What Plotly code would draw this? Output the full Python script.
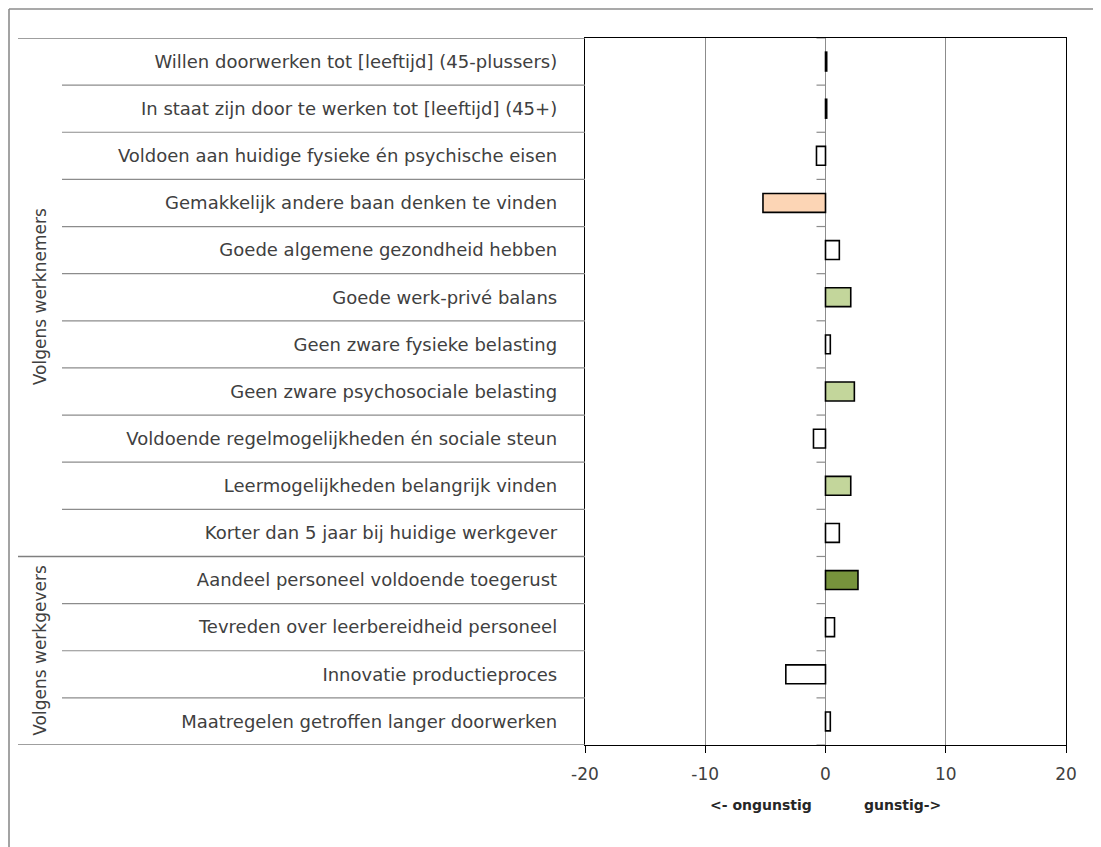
import plotly.graph_objects as go

categories = [
    "Willen doorwerken tot [leeftijd] (45-plussers)",
    "In staat zijn door te werken tot [leeftijd] (45+)",
    "Voldoen aan huidige fysieke én psychische eisen",
    "Gemakkelijk andere baan denken te vinden",
    "Goede algemene gezondheid hebben",
    "Goede werk-privé balans",
    "Geen zware fysieke belasting",
    "Geen zware psychosociale belasting",
    "Voldoende regelmogelijkheden én sociale steun",
    "Leermogelijkheden belangrijk vinden",
    "Korter dan 5 jaar bij huidige werkgever",
    "Aandeel personeel voldoende toegerust",
    "Tevreden over leerbereidheid personeel",
    "Innovatie productieproces",
    "Maatregelen getroffen langer doorwerken",
]
values = [0.1, 0.1, -0.75, -5.2, 1.15, 2.1, 0.4, 2.4, -1.0, 2.1, 1.15, 2.7, 0.75, -3.3, 0.4]
bar_colors = ["#FFFFFF", "#FFFFFF", "#FFFFFF", "#FCD5B5", "#FFFFFF", "#C3D69B", "#FFFFFF",
              "#C3D69B", "#FFFFFF", "#C3D69B", "#FFFFFF", "#77933C", "#FFFFFF", "#FFFFFF", "#FFFFFF"]
groups = [("Volgens werknemers", 0, 10), ("Volgens werkgevers", 11, 14)]
x_ticks = [-20, -10, 0, 10, 20]
x_tick_text = ["-20", "-10", "0", "10", "20"]

FONT = "DejaVu Sans"
TXT = "#404040"

# target pixel geometry in the screenshot (decorations only); page has an 8px body offset
OFF = 8
PL, PR, PT, PB = 585, 1066, 38, 745
W, H = 1101, 847
pw, ph = PR - PL, PB - PT


def px_x(p):
    return (p - PL) / pw


def px_y(p):
    return (PB - p) / ph


fig = go.Figure()
fig.add_trace(go.Bar(
    y=categories, x=values, orientation="h",
    marker=dict(color=bar_colors, line=dict(color="#000000", width=1.6)),
    width=0.4, hoverinfo="x+y", showlegend=False,
))

n = len(categories)
shapes = []
# row separators in the label area
for k in range(1, n):
    if k == 11:
        continue
    shapes.append(dict(type="line", xref="paper", yref="y", x0=px_x(62), x1=0,
                       y0=k - 0.5, y1=k - 0.5, line=dict(color="#8C8C8C", width=1.2)))
# group separators
for yb in (-0.5, 10.5, n - 0.5):
    shapes.append(dict(type="line", xref="paper", yref="y", x0=px_x(18), x1=0,
                       y0=yb, y1=yb, line=dict(color="#7F7F7F", width=1.4)))
# small ticks on the zero axis at category boundaries
for k in range(n + 1):
    shapes.append(dict(type="line", xref="x", yref="y", xsizemode="pixel", xanchor=0,
                       x0=-9, x1=0, y0=k - 0.5, y1=k - 0.5,
                       line=dict(color="#8C8C8C", width=1.2)))
# outer frame
shapes.append(dict(type="line", xref="paper", yref="paper", x0=px_x(9), x1=px_x(W + 20),
                   y0=px_y(9), y1=px_y(9), line=dict(color="#8C8C8C", width=1.6)))
shapes.append(dict(type="line", xref="paper", yref="paper", x0=px_x(9), x1=px_x(9),
                   y0=px_y(9), y1=px_y(H + 20), line=dict(color="#8C8C8C", width=1.6)))

annotations = []
for name, a, b in groups:
    annotations.append(dict(text=name, xref="paper", yref="y", x=px_x(40), y=(a + b) / 2,
                            textangle=-90, showarrow=False, xanchor="center", yanchor="middle",
                            font=dict(family=FONT, size=17, color=TXT)))
annotations.append(dict(text="<b>&lt;- ongunstig</b>", xref="x", yref="paper", x=-5.4,
                        y=px_y(805), xanchor="center", yanchor="middle",
                        showarrow=False, font=dict(family=FONT, size=14, color="#262626")))
annotations.append(dict(text="<b>gunstig-&gt;</b>", xref="x", yref="paper", x=6.4,
                        y=px_y(805), xanchor="center", yanchor="middle",
                        showarrow=False, font=dict(family=FONT, size=14, color="#262626")))

fig.update_layout(
    width=W, height=H,
    margin=dict(l=PL - OFF, r=W + OFF - PR, t=PT - OFF, b=H + OFF - PB),
    paper_bgcolor="white", plot_bgcolor="white",
    xaxis=dict(range=[-20, 20], tickvals=x_ticks, ticktext=x_tick_text,
               showgrid=True, gridcolor="#8C8C8C", gridwidth=1,
               zeroline=True, zerolinecolor="#8C8C8C", zerolinewidth=1.2,
               showline=True, linecolor="#000000", linewidth=1.4, mirror=True,
               ticks="outside", ticklen=7, tickcolor="#000000", ticklabelstandoff=6,
               tickfont=dict(family=FONT, size=17, color=TXT)),
    yaxis=dict(type="category", categoryorder="array", categoryarray=categories,
               range=[n - 0.5, -0.5], showgrid=False, zeroline=False,
               showline=True, linecolor="#000000", linewidth=1.4, mirror=True,
               ticks="", ticklabelstandoff=23,
               tickfont=dict(family=FONT, size=18, color=TXT)),
    shapes=shapes, annotations=annotations,
    font=dict(family=FONT, color=TXT),
)

fig.write_html("out.html")
